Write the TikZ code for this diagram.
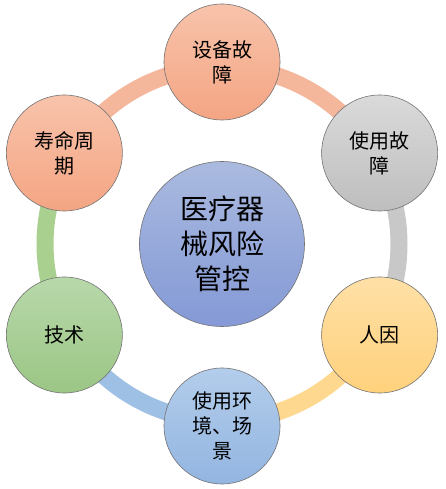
\documentclass[tikz,border=0pt]{standalone}
\usepackage{fontspec}
\newfontfamily\cjk{Noto Sans CJK SC}
\definecolor{salT}{HTML}{F8C3AB}
\definecolor{salB}{HTML}{F4A583}
\definecolor{gryT}{HTML}{DADADA}
\definecolor{gryB}{HTML}{BEBEBE}
\definecolor{ylwT}{HTML}{FFE0A6}
\definecolor{ylwB}{HTML}{FFD17C}
\definecolor{bluT}{HTML}{B3CDEB}
\definecolor{bluB}{HTML}{93B5E1}
\definecolor{grnT}{HTML}{B8D8AA}
\definecolor{grnB}{HTML}{9BC685}
\definecolor{cenT}{HTML}{AABADF}
\definecolor{cenB}{HTML}{8499D6}
\definecolor{salA}{HTML}{F5B79C}
\definecolor{gryA}{HTML}{C8C8C8}
\definecolor{ylwA}{HTML}{FFD890}
\definecolor{bluA}{HTML}{9FC0E5}
\definecolor{grnA}{HTML}{A9D08E}
\tikzset{
  outer/.style={circle, draw=black!55, line width=0.6pt, minimum size=116pt, inner sep=0pt,
    align=center, font=\cjk\fontsize{20}{25}\selectfont},
  center node/.style={circle, draw=black!55, line width=0.6pt, minimum size=165pt, inner sep=0pt,
    align=center, top color=cenT, bottom color=cenB, font=\cjk\fontsize{28}{35}\selectfont},
  ring/.style={line width=17pt, line cap=butt}
}
\begin{document}
\begin{tikzpicture}[x=1pt,y=1pt]
\useasboundingbox (0,0) rectangle (445,489);
\begin{scope}[shift={(222,245)}]
  \draw[ring, salA] (90:177) arc[start angle=90, end angle=30, radius=177];
  \draw[ring, gryA] (30:177) arc[start angle=30, end angle=-30, radius=177];
  \draw[ring, ylwA] (-30:177) arc[start angle=-30, end angle=-90, radius=177];
  \draw[ring, bluA] (-90:177) arc[start angle=-90, end angle=-150, radius=177];
  \draw[ring, grnA] (-150:177) arc[start angle=-150, end angle=-210, radius=177];
  \draw[ring, salA] (150:177) arc[start angle=150, end angle=90, radius=177];
  \node[center node] (c) at (0,0) {医疗器\\械风险\\管控};
  \node[outer, top color=salT, bottom color=salB] (t) at (90:182) {设备故\\障};
  \node[outer, top color=gryT, bottom color=gryB] (ur) at (30:182) {使用故\\障};
  \node[outer, top color=ylwT, bottom color=ylwB] (lr) at (-30:182) {人因};
  \node[outer, top color=bluT, bottom color=bluB] (b) at (-90:182) {使用环\\境、场\\景};
  \node[outer, top color=grnT, bottom color=grnB] (ll) at (-150:182) {技术};
  \node[outer, top color=salT, bottom color=salB] (ul) at (150:182) {寿命周\\期};
\end{scope}
\end{tikzpicture}
\end{document}
